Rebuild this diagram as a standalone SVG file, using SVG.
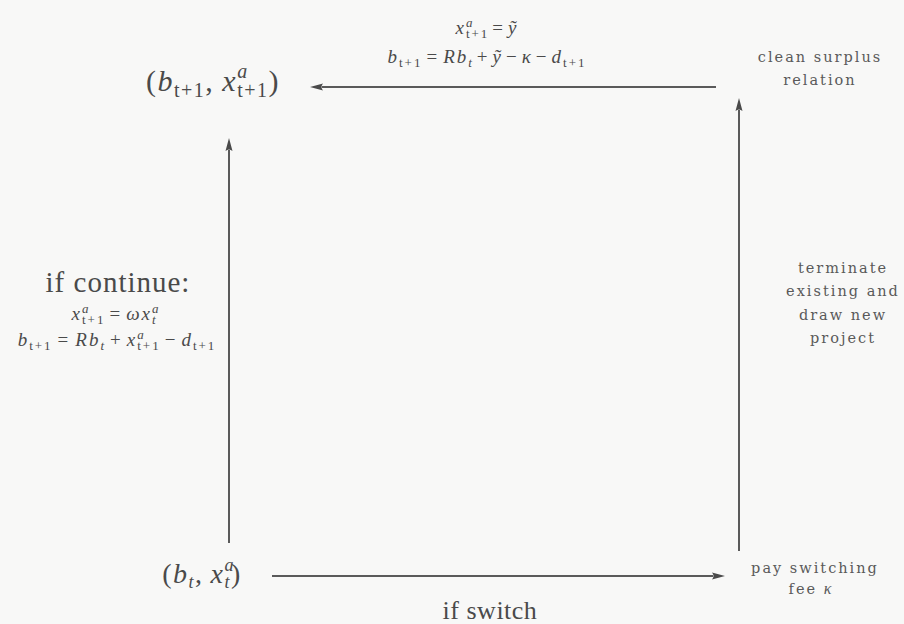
<svg xmlns="http://www.w3.org/2000/svg" width="904" height="624" viewBox="0 0 904 624">
<defs>
<style>
.bg{fill:#f8f8f7}
.m{font-family:"Liberation Serif","DejaVu Serif",serif;fill:#4a4a4a;text-anchor:middle}
.i{font-style:italic}
.f{font-size:19px;letter-spacing:2px}
.lab{font-family:"DejaVu Serif","Liberation Serif",serif;fill:#5a5a5a;font-size:14.5px;letter-spacing:2px;text-anchor:middle}
.rm{font-family:"Liberation Serif","DejaVu Serif",serif;fill:#4a4a4a;text-anchor:middle}
.ln{stroke:#5a5a5a;stroke-width:2;fill:none}
</style>
<marker id="ah" viewBox="0 0 13 8" refX="1" refY="4" markerWidth="13" markerHeight="8" markerUnits="userSpaceOnUse" orient="auto">
<path d="M13,4 L0,0.5 Q3,4 0,7.5 Z" fill="#4a4a4a"/>
</marker>
</defs>
<rect class="bg" x="0" y="0" width="904" height="624"/>

<g id="connectors">
<line class="ln" x1="716" y1="87" x2="322" y2="87" marker-end="url(#ah)"/>
<line class="ln" x1="739" y1="551" x2="739" y2="110" marker-end="url(#ah)"/>
<line class="ln" x1="229" y1="543" x2="229" y2="150" marker-end="url(#ah)"/>
<line class="ln" x1="272" y1="576" x2="713" y2="576" marker-end="url(#ah)"/>
</g>

<g id="node-next">
<text class="m" font-size="30" letter-spacing="1.5" x="213" y="91">(<tspan class="i">b</tspan><tspan font-size="20" dy="6">t+1</tspan><tspan dy="-6">,</tspan><tspan class="i" dx="8">x</tspan><tspan class="i" font-size="20" dy="-13">a</tspan><tspan font-size="20" dx="-11.5" dy="19">t+1</tspan><tspan dy="-6">)</tspan></text>
</g>

<g id="node-current">
<text class="m" font-size="28" letter-spacing="1.5" x="202" y="583">(<tspan class="i">b</tspan><tspan class="i" font-size="18" dy="5">t</tspan><tspan dy="-5">,</tspan><tspan class="i" dx="7">x</tspan><tspan class="i" font-size="18" dy="-12">a</tspan><tspan class="i" font-size="18" dx="-10.5" dy="17">t</tspan><tspan dy="-5">)</tspan></text>
</g>

<g id="node-clean">
<text class="lab" x="820" y="62">clean surplus</text>
<text class="lab" x="820" y="85">relation</text>
</g>

<g id="node-terminate">
<text class="lab" x="843" y="273">terminate</text>
<text class="lab" x="843" y="296">existing and</text>
<text class="lab" x="843" y="320">draw new</text>
<text class="lab" x="843" y="343">project</text>
</g>

<g id="node-pay">
<text class="lab" x="815" y="573">pay switching</text>
<text class="lab" x="811" y="594">fee <tspan font-family="Liberation Serif" font-style="italic" font-size="16">κ</tspan></text>
</g>

<g id="label-top">
<text class="m f" x="487" y="34"><tspan class="i">x</tspan><tspan class="i" font-size="13" dy="-7">a</tspan><tspan font-size="13" dx="-8.5" dy="11">t+1</tspan><tspan dx="3" dy="-4">=</tspan><tspan class="i" dx="3">ỹ</tspan></text>
<text class="m f" x="487" y="63"><tspan class="i">b</tspan><tspan font-size="13" dy="4">t+1</tspan><tspan dx="4" dy="-4">=</tspan><tspan class="i" dx="4">Rb</tspan><tspan class="i" font-size="13" dy="4">t</tspan><tspan dx="3" dy="-4">+</tspan><tspan class="i" dx="3">ỹ</tspan><tspan dx="3">−</tspan><tspan class="i" dx="3">κ</tspan><tspan dx="3">−</tspan><tspan class="i" dx="3">d</tspan><tspan font-size="13" dy="4">t+1</tspan></text>
</g>

<g id="label-continue">
<text class="rm" font-size="29" letter-spacing="1" x="118" y="292">if continue:</text>
<text class="m f" x="116" y="320"><tspan class="i">x</tspan><tspan class="i" font-size="13" dy="-7">a</tspan><tspan font-size="13" dx="-8.5" dy="11">t+1</tspan><tspan dx="4" dy="-4">=</tspan><tspan class="i" dx="4">ωx</tspan><tspan class="i" font-size="13" dy="-7">a</tspan><tspan class="i" font-size="13" dx="-8.5" dy="11">t</tspan></text>
<text class="m f" x="117" y="346"><tspan class="i">b</tspan><tspan font-size="13" dy="4">t+1</tspan><tspan dx="5" dy="-4">=</tspan><tspan class="i" dx="5">Rb</tspan><tspan class="i" font-size="13" dy="4">t</tspan><tspan dx="4" dy="-4">+</tspan><tspan class="i" dx="4">x</tspan><tspan class="i" font-size="13" dy="-7">a</tspan><tspan font-size="13" dx="-8.5" dy="11">t+1</tspan><tspan dx="4" dy="-4">−</tspan><tspan class="i" dx="4">d</tspan><tspan font-size="13" dy="4">t+1</tspan></text>
</g>

<g id="label-switch">
<text class="rm" font-size="26" letter-spacing="0.5" x="490" y="619">if switch</text>
</g>
</svg>
